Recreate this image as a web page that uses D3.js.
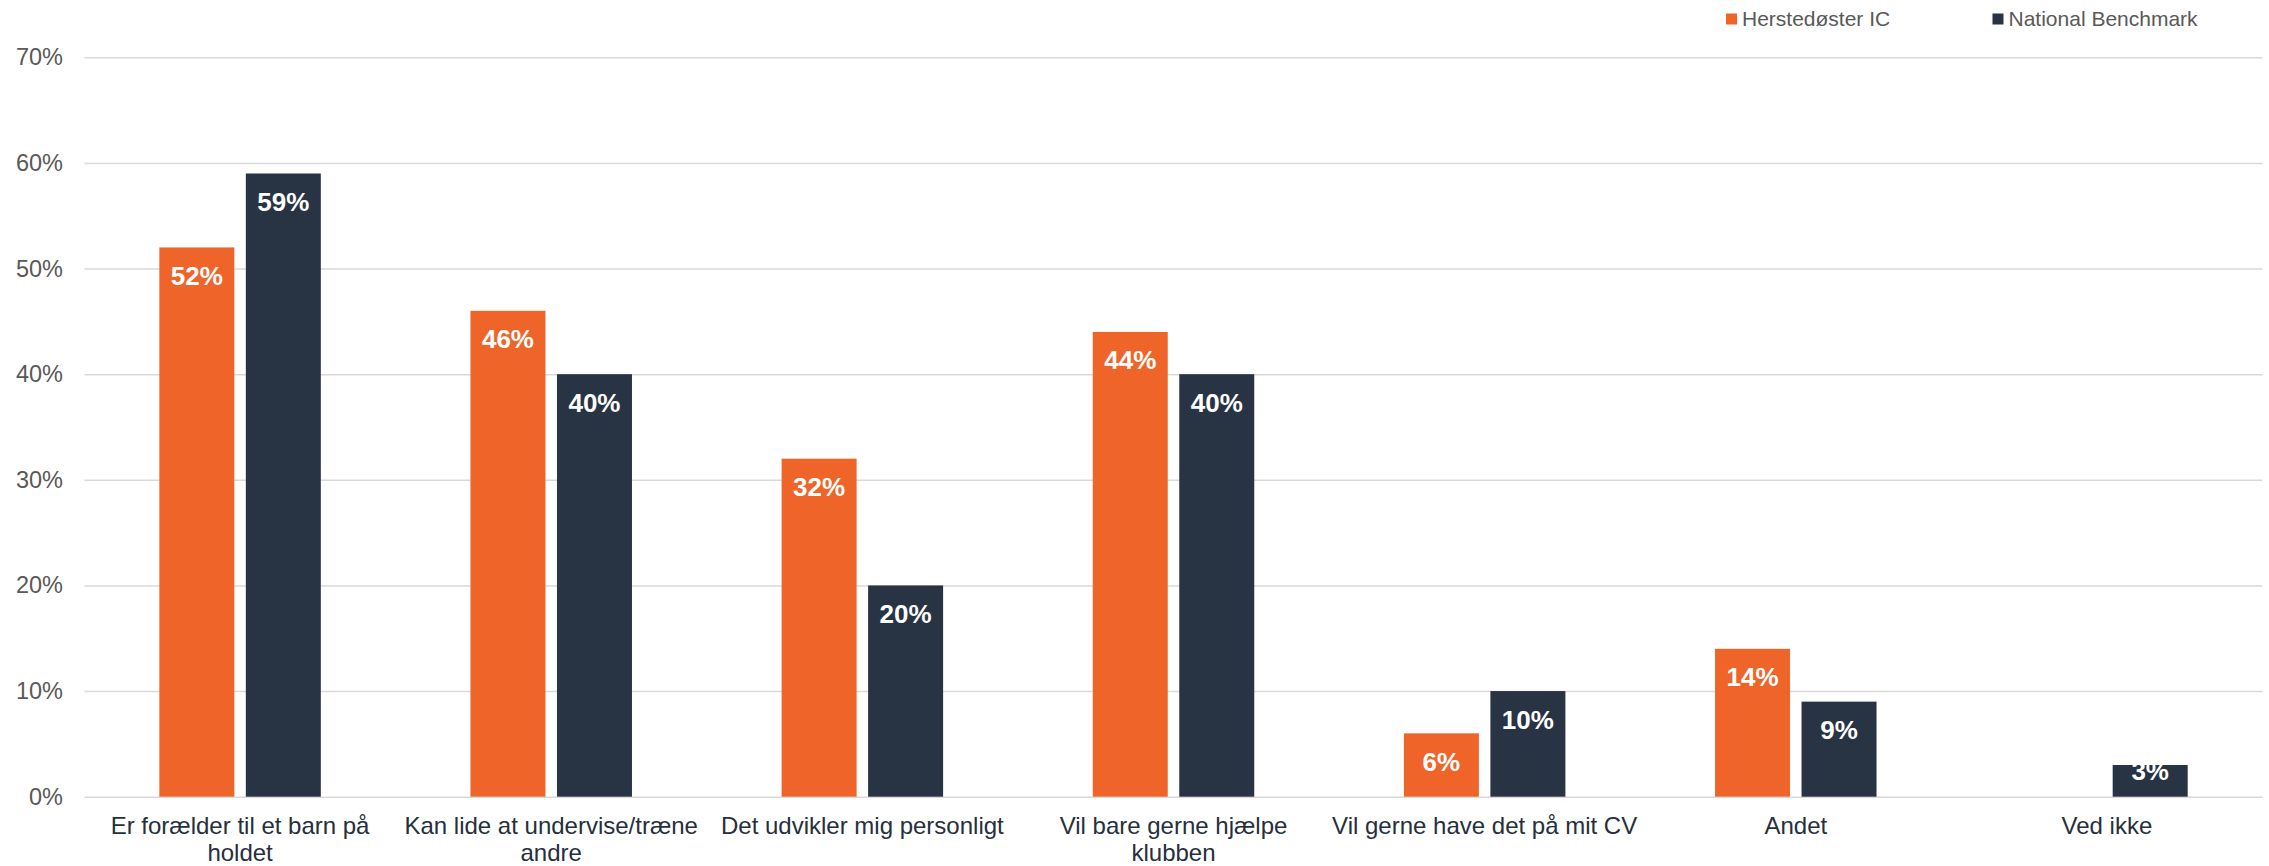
<!DOCTYPE html>
<html>
<head>
<meta charset="utf-8">
<script src="https://cdn.jsdelivr.net/npm/d3@7"></script>
<style>
  html, body { margin: 0; padding: 0; background: #ffffff; }
  svg { display: block; font-family: "Liberation Sans", Arial, sans-serif; }
</style>
</head>
<body>
<svg id="chart" width="2269" height="866"></svg>
<script>
// ---- data ----
const categories = [
  "Er forælder til et barn på\nholdet",
  "Kan lide at undervise/træne\nandre",
  "Det udvikler mig personligt",
  "Vil bare gerne hjælpe\nklubben",
  "Vil gerne have det på mit CV",
  "Andet",
  "Ved ikke"
];
const seriesNames = ["Herstedøster IC", "National Benchmark"];
const herstedoester = [52, 46, 32, 44, 6, 14, null];
const nationalBenchmark = [59, 40, 20, 40, 10, 9, 3];
const yTicks = [0, 10, 20, 30, 40, 50, 60, 70];
const colors = ["#EF6529", "#283344"];

// ---- layout ----
const svg = d3.select("#chart");
const plotLeft = 84.5, plotRight = 2262.5, plotTop = 57.3, plotBottom = 796.7;

const x0 = d3.scaleBand().domain(categories).range([plotLeft, plotRight]).padding(0);
const step = x0.step();
const groupW = 161.5;
const x1 = d3.scaleBand().domain(seriesNames)
  .range([(step - groupW) / 2, (step + groupW) / 2])
  .paddingInner(0.133).paddingOuter(0);
const y = d3.scaleLinear().domain([0, 70]).range([plotBottom, plotTop]);

// gridlines + y labels
const yAxis = d3.axisLeft(y).tickValues(yTicks).tickFormat(d => d + "%")
  .tickSize(-(plotRight - plotLeft)).tickPadding(21.5);
const gy = svg.append("g").attr("transform", `translate(${plotLeft},0)`).call(yAxis);
gy.select(".domain").remove();
gy.selectAll(".tick line").attr("stroke", "#d9d9d9").attr("stroke-width", 1.5);
gy.selectAll(".tick text").attr("fill", "#595959").attr("font-size", "23.5px")
  .attr("font-family", "Liberation Sans, Arial, sans-serif");

// bars
const rows = categories.map((c, i) => ({
  cat: c,
  vals: [
    { s: seriesNames[0], v: herstedoester[i], k: 0 },
    { s: seriesNames[1], v: nationalBenchmark[i], k: 1 }
  ]
}));

const groups = svg.append("g").selectAll("g").data(rows).join("g")
  .attr("transform", d => `translate(${x0(d.cat)},0)`);

groups.selectAll("rect").data(d => d.vals.filter(v => v.v != null)).join("rect")
  .attr("x", d => x1(d.s))
  .attr("y", d => y(d.v))
  .attr("width", x1.bandwidth())
  .attr("height", d => y(0) - y(d.v))
  .attr("fill", d => colors[d.k]);

groups.selectAll("text.val").data(d => d.vals.filter(v => v.v != null)).join("text")
  .attr("class", "val")
  .attr("x", d => x1(d.s) + x1.bandwidth() / 2)
  .attr("y", d => Math.min(y(d.v) + 37.5, y(0) - 17))
  .attr("text-anchor", "middle")
  .attr("fill", "#ffffff")
  .attr("font-weight", "bold")
  .attr("font-size", "26px")
  .text(d => d.v + "%");

// category labels
const xl = svg.append("g").selectAll("text").data(categories).join("text")
  .attr("x", d => x0(d) + step / 2)
  .attr("y", 834)
  .attr("text-anchor", "middle")
  .attr("fill", "#262F3D")
  .attr("font-size", "24px");
xl.each(function(d) {
  const lines = d.split("\n");
  const t = d3.select(this);
  lines.forEach((ln, i) => {
    t.append("tspan").attr("x", x0(d) + step / 2).attr("dy", i === 0 ? 0 : 27).text(ln);
  });
});

// legend
const legendX = [1726, 1992.5];
const lg = svg.append("g").selectAll("g").data(seriesNames).join("g")
  .attr("transform", (d, i) => `translate(${legendX[i]},0)`);
lg.append("rect").attr("x", 0).attr("y", 13.5).attr("width", 11).attr("height", 11)
  .attr("fill", (d, i) => colors[i]);
lg.append("text").attr("x", 16).attr("y", 26).attr("fill", "#595959")
  .attr("font-size", "21px").text(d => d);
</script>
</body>
</html>
